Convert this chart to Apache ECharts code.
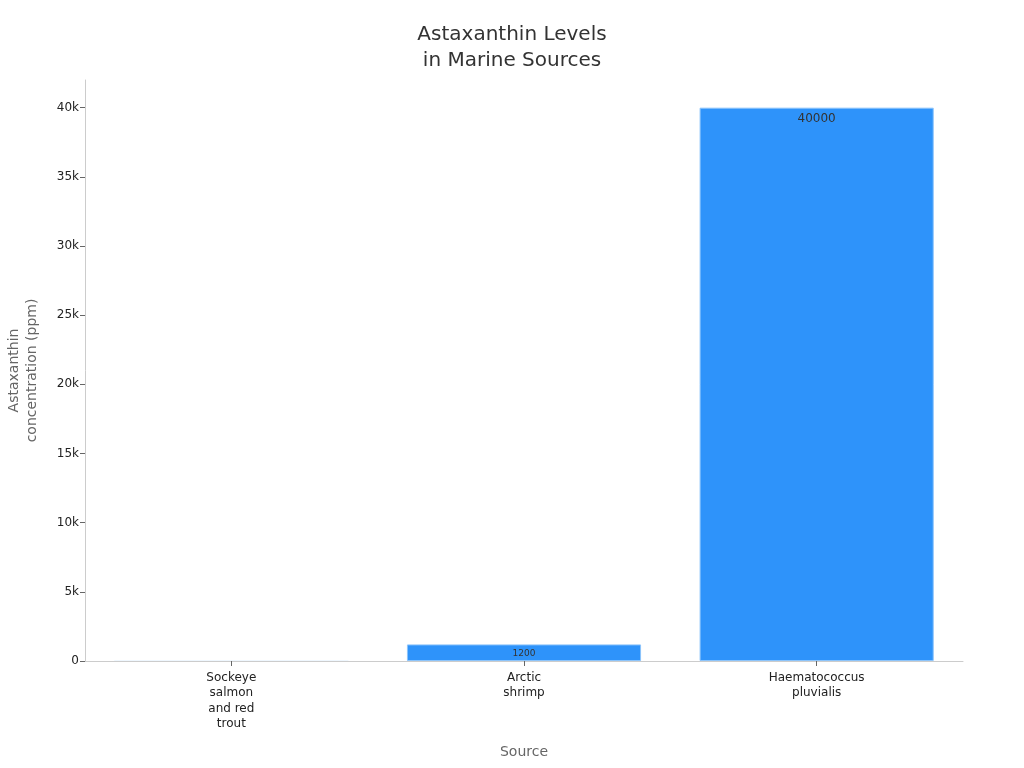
<!DOCTYPE html>
<html><head><meta charset="utf-8">
<script src="https://cdn.jsdelivr.net/npm/echarts@6/dist/echarts.min.js"></script>
<style>html,body{margin:0;padding:0;background:#fff}#c{width:1024px;height:768px}</style>
</head><body><div id="c"></div>
<script>
const categories = ['Sockeye\nsalmon\nand red\ntrout', 'Arctic\nshrimp', 'Haematococcus\npluvialis'];
const values = [30, 1200, 40000];
const labelSizes = [0, 9, 12];

const chart = echarts.init(document.getElementById('c'));
chart.setOption({
  animation: false,
  textStyle: { fontFamily: 'DejaVu Sans' },
  title: {
    text: 'Astaxanthin Levels\nin Marine Sources',
    left: 'center', top: 17,
    textStyle: { fontSize: 20, fontWeight: 'normal', color: '#333', lineHeight: 26, fontFamily: 'DejaVu Sans' }
  },
  grid: { left: 85, right: 61, top: 80, bottom: 107, containLabel: false, outerBoundsMode: 'none' },
  xAxis: {
    type: 'category', data: categories,
    name: 'Source', nameLocation: 'middle', nameGap: 84,
    nameTextStyle: { fontSize: 14, color: '#666' },
    axisLine: { lineStyle: { color: '#ccc' } },
    axisTick: { show: true, alignWithLabel: true, length: 5, lineStyle: { color: '#666' } },
    axisLabel: { color: '#222', fontSize: 12, lineHeight: 15.5, interval: 0, margin: 9 },
    splitLine: { show: false }
  },
  yAxis: {
    type: 'value', min: 0, max: 42000, interval: 5000,
    name: 'Astaxanthin\nconcentration (ppm)', nameLocation: 'middle', nameGap: 44,
    nameTextStyle: { fontSize: 14, color: '#666', lineHeight: 18 },
    axisLine: { show: true, lineStyle: { color: '#ccc' } },
    axisTick: { show: true, length: 5, lineStyle: { color: '#666' } },
    splitLine: { show: false },
    axisLabel: { color: '#222', fontSize: 12, showMaxLabel: false, margin: 6,
      formatter: v => v === 0 ? '0' : (v / 1000) + 'k' }
  },
  series: [{
    type: 'bar', barWidth: '80%',
    data: values.map((v, i) => ({
      value: v,
      label: { show: labelSizes[i] > 0, fontSize: labelSizes[i] || 1 },
      itemStyle: labelSizes[i] > 0 ? {} : { borderWidth: 0, opacity: 0.15 }
    })),
    itemStyle: { color: '#2E93FA', borderColor: '#8cc4fb', borderWidth: 1 },
    label: { show: true, position: 'insideTop', color: '#333', distance: 5 }
  }]
});
</script></body></html>
